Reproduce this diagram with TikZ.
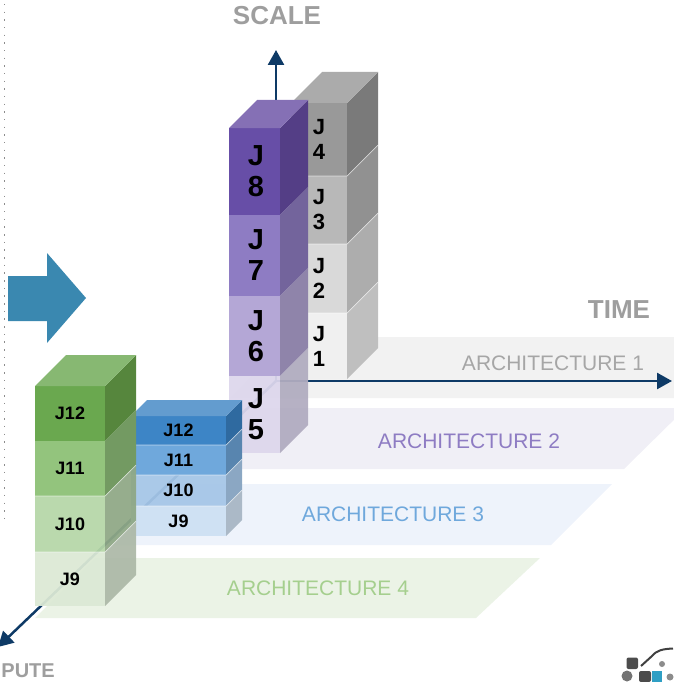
\documentclass[tikz,border=0pt]{standalone}
\usepackage{fontspec}
\setmainfont{Liberation Sans}
\usetikzlibrary{positioning,arrows.meta,calc}
\definecolor{axisblue}{HTML}{0E3A66}
\definecolor{plane2}{HTML}{F0EFF6}
\definecolor{plane3}{HTML}{EEF3FB}
\definecolor{plane4}{HTML}{EBF3E6}
\definecolor{text2}{HTML}{8E7CC3}
\definecolor{text3}{HTML}{6FA8DC}
\definecolor{text4}{HTML}{A5CF8E}
\definecolor{bigarrow}{HTML}{3A88B0}
\definecolor{logoblue}{HTML}{2F9FC4}
\definecolor{p8}{HTML}{674EA7}\definecolor{p8s}{HTML}{543E86}\definecolor{p8t}{HTML}{8570B5}
\definecolor{p7}{HTML}{8E7CC3}\definecolor{p7s}{HTML}{73649C}
\definecolor{p6}{HTML}{B4A7D6}\definecolor{p6s}{HTML}{8F84AA}
\definecolor{p5}{HTML}{DDD7EC}\definecolor{p5s}{HTML}{B1ACC0}
\definecolor{b12}{HTML}{3D85C6}\definecolor{b12s}{HTML}{2F6AA0}\definecolor{b12t}{HTML}{639CCF}
\definecolor{b11}{HTML}{6FA8DC}\definecolor{b11s}{HTML}{5885AF}
\definecolor{b10}{HTML}{A5C6E7}\definecolor{b10s}{HTML}{8BA7C3}
\definecolor{b9}{HTML}{CFE1F3}\definecolor{b9s}{HTML}{ABB9C7}
\definecolor{g12}{HTML}{6AA84F}\definecolor{g12s}{HTML}{56863D}\definecolor{g12t}{HTML}{87B872}
\definecolor{g11}{HTML}{93C47D}\definecolor{g11s}{HTML}{739A62}
\definecolor{g10}{HTML}{B6D7A8}\definecolor{g10s}{HTML}{8FA886}
\definecolor{g9}{HTML}{DCE9D5}\definecolor{g9s}{HTML}{ADB9A8}
\tikzset{
slab/.style={inner sep=0pt,outer sep=0pt,font=\bfseries},
glass/.style={fill opacity=0.94,text opacity=1},
seam/.style={white,opacity=0.6,line width=0.7pt},
greenslab/.style={slab,minimum width=70,minimum height=55,font=\bfseries\fontsize{18}{20}\selectfont},
blueslab/.style={slab,minimum width=95,minimum height=30,font=\bfseries\fontsize{18}{20}\selectfont},
purpleslab/.style={slab,minimum width=51,align=center,font=\bfseries\fontsize{29}{31}\selectfont},
grayslab/.style={slab,minimum width=56,align=center,font=\bfseries\fontsize{22}{25}\selectfont},
axis/.style={axisblue,line width=2.5pt,-{Triangle[length=15,width=16]}},
axistitle/.style={text=black!38,font=\bfseries\fontsize{26}{28}\selectfont},
archlabel/.style={font=\fontsize{21}{23}\selectfont}
}
% side of a slab: node, depth, colour
\newcommand{\slabside}[3]{\fill[#3] (#1.north east) -- ++(#2,-#2) -- ($(#1.south east)+(#2,-#2)$) -- (#1.south east) -- cycle;}
% top of a stack: node, depth, colour
\newcommand{\slabtop}[3]{\fill[#3] (#1.north west) -- ++(#2,-#2) -- ($(#1.north east)+(#2,-#2)$) -- (#1.north east) -- cycle;}

\begin{document}
\begin{tikzpicture}[x=1pt, y=-1pt]
\useasboundingbox (0,0) rectangle (673,682);

% planes
\fill[black!5] (290,337) -- (690,337) -- (690,398) -- (230,398) -- cycle;
\fill[plane2] (235,408) -- (686,408) -- (624,469) -- (175,469) -- cycle;
\fill[plane3] (165,484) -- (612,484) -- (551,545) -- (105,545) -- cycle;
\fill[plane4] (95,558) -- (540,558) -- (476,618) -- (35,618) -- cycle;
\node[archlabel,text=black!35] (arch1) at (553,363) {ARCHITECTURE 1};
\node[archlabel,text=text2] (arch2) at (469,441) {ARCHITECTURE 2};
\node[archlabel,text=text3] (arch3) at (393,514) {ARCHITECTURE 3};
\node[archlabel,text=text4] (arch4) at (318,588) {ARCHITECTURE 4};

% dots and big arrow
\draw[black!45,line width=1.2pt,dash pattern=on 1.4pt off 6.27pt] (4.5,4) coordinate (dots1) -- (4.5,520) coordinate (dots2);
\fill[bigarrow] (8,276) -- (47,276) -- (47,253) -- (86,298) -- (47,343) -- (47,321) -- (8,321) -- cycle;

% axes
\coordinate (origin) at (276,381);
\coordinate (scaleend) at (276,50);
\coordinate (timeend) at (672,381);
\coordinate (computeend) at (-2,647);
\draw[axis] (origin) -- (scaleend);
\draw[axis] (origin) -- (timeend);
\draw[axis] (origin) -- (computeend);
\node[axistitle] (scale) at (277,16) {SCALE};
\node[axistitle] (time) at (619,310) {TIME};
\node[axistitle,anchor=east,inner sep=0pt,font=\bfseries\fontsize{20}{22}\selectfont] (compute) at (55,671) {PUTE};

% architecture 1
\node[grayslab,fill=black!40,minimum height=73] (j4) at (319,139.5) {J\\4};
\node[grayslab,fill=black!28,minimum height=68,below=0pt of j4] (j3) {J\\3};
\node[grayslab,fill=black!15,minimum height=69,below=0pt of j3] (j2) {J\\2};
\node[grayslab,fill=black!6,minimum height=66,below=0pt of j2] (j1) {J\\1};
\slabside{j4}{31}{black!52}
\slabside{j3}{31}{black!43}
\slabside{j2}{31}{black!32}
\slabside{j1}{31}{black!25}
\slabtop{j4}{31}{black!33}
\foreach \n in {j3,j2,j1}
  \draw[seam] (\n.north west) -- (\n.north east) -- ++(31,-31);

% architecture 2
\node[purpleslab,fill=p8,minimum height=87] (j8) at (254.5,171.5) {\hspace{3pt}J\\\hspace{3pt}8};
\node[purpleslab,fill=p7,minimum height=81,below=0pt of j8] (j7) {\hspace{3pt}J\\\hspace{3pt}7};
\node[purpleslab,fill=p6,minimum height=80,below=0pt of j7] (j6) {\hspace{3pt}J\\\hspace{3pt}6};
\node[purpleslab,glass,fill=p5,minimum height=77,below=0pt of j6] (j5) {\hspace{3pt}J\\\hspace{3pt}5};
\slabside{j8}{28}{p8s}
\slabside{j7}{28}{p7s}
\slabside{j6}{28}{p6s}
\slabside{j5}{28}{p5s,fill opacity=0.94}
\slabtop{j8}{28}{p8t}

% architecture 3
\node[blueslab,fill=b12,minimum height=29] (j12b) at (178.5,430.5) {J12};
\node[blueslab,fill=b11,below=0pt of j12b] (j11b) {J11};
\node[blueslab,glass,fill=b10,minimum height=31,below=0pt of j11b] (j10b) {J10};
\node[blueslab,fill=b9,below=0pt of j10b] (j9b) {J9};
\slabside{j12b}{16}{b12s}
\slabside{j11b}{16}{b11s}
\slabside{j10b}{16}{b10s}
\slabside{j9b}{16}{b9s}
\slabtop{j12b}{16}{b12t}
\foreach \n in {j11b,j10b,j9b}
  \draw[seam] (\n.north west) -- (\n.north east) -- ++(16,-16);

% architecture 4
\node[greenslab,fill=g12] (j12g) at (70,413.5) {J12};
\node[greenslab,fill=g11,below=0pt of j12g] (j11g) {J11};
\node[greenslab,glass,fill=g10,minimum height=56,below=0pt of j11g] (j10g) {J10};
\node[greenslab,glass,fill=g9,minimum height=54,below=0pt of j10g] (j9g) {J9};
\slabside{j12g}{31}{g12s}
\slabside{j11g}{31}{g11s}
\slabside{j10g}{31}{g10s,fill opacity=0.94}
\slabside{j9g}{31}{g9s,fill opacity=0.94}
\slabtop{j12g}{31}{g12t}
\foreach \n in {j10g,j9g}
  \draw[seam] (\n.north west) -- (\n.north east) -- ++(31,-31);

% logo
\fill[black!70,rounded corners=2pt] (626.5,657.5) rectangle (638,669);
\fill[black!55] (627,676) circle (5.5);
\fill[black!70,rounded corners=2pt] (639,671) rectangle (651,682);
\fill[logoblue] (652,671) rectangle (662,682);
\fill[black!45] (662,664) circle (3);
\fill[black!45] (670,677) circle (3.5);
\draw[black!75,line width=2pt] (641,666) -- (652,656) .. controls (657,650) and (663,649) .. (673,648.5);
\end{tikzpicture}
\end{document}
